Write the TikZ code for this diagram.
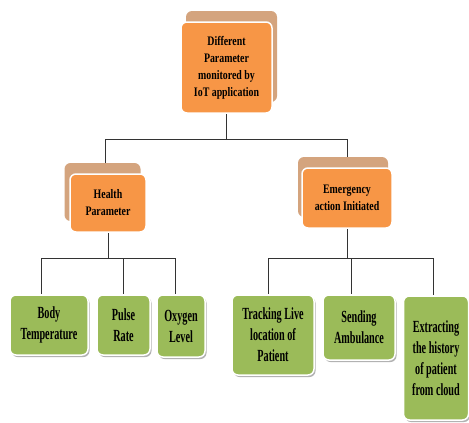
\documentclass[tikz,border=0pt]{standalone}
\usepackage{fontspec}
\setmainfont{Liberation Serif}[FakeStretch=0.76]
\newfontfamily\leaffont{Liberation Serif}[FakeStretch=0.6]
\usepackage{tikz}
\usetikzlibrary{shadows,backgrounds}
\definecolor{boxorange}{HTML}{F79646}
\definecolor{boxtan}{HTML}{D4A47E}
\definecolor{boxgreen}{HTML}{9BBB59}
\tikzset{
  head/.style={
      rectangle, rounded corners=6pt, fill=boxorange, draw=white, line width=1.5pt,
      align=center, inner sep=2pt, font=\bfseries\fontsize{13}{17}\selectfont
    },
  back/.style={
      copy shadow={shadow xshift=#1, shadow yshift=11pt, fill=boxtan, draw=none}
    },
  leaf/.style={
      rectangle, rounded corners=6pt, fill=boxgreen, draw=white, line width=1.5pt,
      align=center, inner sep=2pt, font=\leaffont\bfseries\fontsize{17}{21}\selectfont,
      drop shadow={shadow xshift=1.5pt, shadow yshift=-2pt, fill=black, opacity=0.3}
    }
}

\begin{document}
\begin{tikzpicture}[x=1pt,y=-1pt,link/.style={draw=black!80,line width=0.8pt}]
      \useasboundingbox (0,0) rectangle (469,423);

      \node[head,back=5pt,minimum width=91pt,minimum height=91pt] at (226.5,67.5) (top)
        {Different\\Parameter\\monitored by\\IoT application};
      \node[head,back=-5.5pt,minimum width=76pt,minimum height=58pt] at (108,203) (health)
        {Health\\Parameter};
      \node[head,back=-4pt,minimum width=90pt,minimum height=60pt] at (347,198) (emerg)
        {Emergency\\action Initiated};

      \node[leaf,minimum width=78pt,minimum height=60pt] at (49,325) (body)
        {Body\\Temperature};
      \node[leaf,minimum width=53pt,minimum height=60pt] at (123.5,325) (pulse)
        {Pulse\\Rate};
      \node[leaf,minimum width=48pt,minimum height=62pt] at (181,326) (oxygen)
        {Oxygen\\Level};
      \node[leaf,minimum width=82pt,minimum height=80pt] at (273,335) (track)
        {Tracking Live\\location of\\Patient};
      \node[leaf,minimum width=72pt,minimum height=65pt] at (359,327.5) (send)
        {Sending\\Ambulance};
      \node[leaf,minimum width=65pt,minimum height=124pt] at (436,358) (extract)
        {Extracting\\the history\\of patient\\from cloud};

      \begin{scope}[on background layer]
        \path[link]
        (top.south) -- ++(0,26) -| ([xshift=-3pt]health.north)
        (top.south) -- ++(0,26) -| (emerg.north)

        (health.south) -- ++(0,26) -| ([xshift=-8pt]body.north)
        (health.south) -- ++(0,26) -| (pulse.north)
        (health.south) -- ++(0,26) -| ([xshift=-6pt]oxygen.north)

        (emerg.south) -- ++(0,30) -| ([xshift=-5pt]track.north)
        (emerg.south) -- ++(0,30) -| ([xshift=-8pt]send.north)
        (emerg.south) -- ++(0,30) -| ([xshift=-3pt]extract.north)
        ;
      \end{scope}
    \end{tikzpicture}
\end{document}
